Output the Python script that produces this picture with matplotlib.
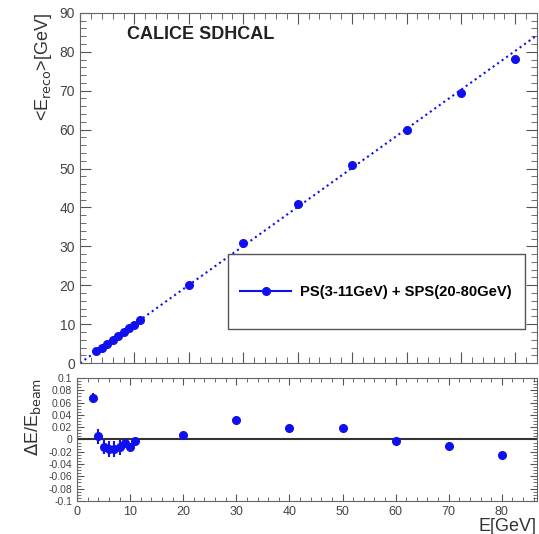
import matplotlib
matplotlib.use('Agg')
import matplotlib.pyplot as plt
from matplotlib.patches import Rectangle
import numpy as np

plt.rcParams['font.family'] = ['Liberation Sans', 'DejaVu Sans']

# beam energies and measured response
e_beam = [3, 4, 5, 6, 7, 8, 9, 10, 11, 20, 30, 40, 50, 60, 70, 80]
e_reco = [3.2, 4.0, 4.95, 5.9, 6.9, 7.9, 8.95, 9.9, 11.0,
          20.1, 30.9, 40.8, 50.9, 59.9, 69.3, 78.2]
resid = [0.068, 0.005, -0.012, -0.016, -0.016, -0.012, -0.006, -0.013, -0.003,
         0.007, 0.031, 0.019, 0.018, -0.002, -0.011, -0.026]
resid_err = [0.008, 0.012, 0.012, 0.013, 0.013, 0.014, 0.008, 0.006, 0.006,
             0.003, 0.003, 0.003, 0.003, 0.003, 0.003, 0.003]
fit_slope = 1.003
fit_offset = 0.0
legend_label = 'PS(3-11GeV) + SPS(20-80GeV)'

blue = '#1010ee'
xmax_top = 84
xmax_bot = 86.6

fig = plt.figure(figsize=(5.39, 5.34), dpi=100)
ax1 = fig.add_axes([0.1485, 0.320, 0.848, 0.656])
ax2 = fig.add_axes([0.143, 0.062, 0.853, 0.230])

xs = np.array([0, xmax_top])
ax1.plot(xs, fit_slope * xs + fit_offset, ':', color=blue, lw=1.5)
ax1.plot(e_beam, e_reco, 'o', color=blue, ms=5.5)
line, = ax1.plot([], [], '-o', color=blue, ms=5.5, lw=1.5)
ax1.set_xlim(0, xmax_top)
ax1.set_ylim(0, 90)
ax1.set_yticks(np.arange(0, 91, 10))
ax1.set_xticks(np.arange(0, xmax_top, 10))
ax1.set_xticks(np.arange(0, xmax_top, 2), minor=True)
ax1.set_yticks(np.arange(0, 91, 2), minor=True)
ax1.set_xticklabels([])
ax1.text(0.102, 0.925, 'CALICE SDHCAL', transform=ax1.transAxes, fontsize=13,
         fontweight='bold', color='#222222')

# legend box, ROOT style: tall white box with a single entry
box = (0.324, 0.097, 0.65, 0.214)
ax1.add_patch(Rectangle(box[:2], box[2], box[3], transform=ax1.transAxes,
                        facecolor='white', edgecolor='#555555', lw=1.0, zorder=5))
leg = ax1.legend([line], [legend_label], loc='center left',
                 bbox_to_anchor=box, prop={'weight': 'bold', 'size': 10.6},
                 frameon=False, handlelength=3.5, handletextpad=0.6,
                 borderpad=0.3)
leg.set_zorder(6)
ax1.set_ylabel(r'<E$_{\rm reco}$>[GeV]', fontsize=13, loc='top', color='#333333')

ax2.errorbar(e_beam, resid, yerr=resid_err, fmt='o', color=blue, ms=5.5,
             elinewidth=1.5, capsize=0)
ax2.axhline(0, color='#333333', lw=1.5)
ax2.set_xlim(0, xmax_bot)
ax2.set_ylim(-0.1, 0.1)
ax2.set_yticks(np.arange(-0.1, 0.101, 0.02))
ax2.set_yticklabels(['-0.1', '-0.08', '-0.06', '-0.04', '-0.02', '0',
                     '0.02', '0.04', '0.06', '0.08', '0.1'])
ax2.set_yticks(np.arange(-0.1, 0.101, 0.005), minor=True)
ax2.set_xticks(np.arange(0, xmax_bot, 10))
ax2.set_xticks(np.arange(0, xmax_bot, 2), minor=True)
ax2.set_ylabel(r'$\Delta$E/E$_{\rm beam}$', fontsize=13, loc='top', color='#333333')
ax2.set_xlabel('E[GeV]', fontsize=13, loc='right', color='#333333', labelpad=0)

for ax in (ax1, ax2):
    ax.tick_params(which='both', direction='in', top=True, right=True,
                   colors='#555555', labelcolor='#444444')
    ax.tick_params(which='major', length=8)
    ax.tick_params(which='minor', length=4)
    for s in ax.spines.values():
        s.set_color('#666666')
ax1.tick_params(labelsize=10)
ax2.tick_params(axis='y', labelsize=7.5)
ax2.tick_params(axis='x', labelsize=9)
ax2.tick_params(which='major', length=5)
ax2.tick_params(which='minor', length=3)

fig.savefig('out.png', dpi=100)
